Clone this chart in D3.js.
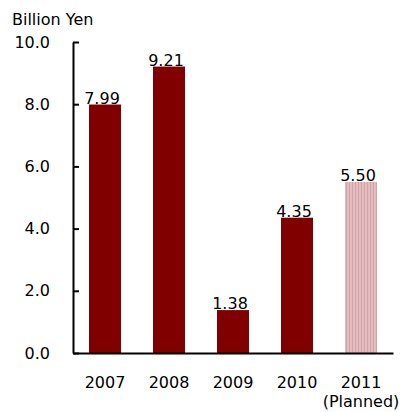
<!DOCTYPE html>
<html>
<head>
<meta charset="utf-8">
<script src="https://cdn.jsdelivr.net/npm/d3@7"></script>
<style>
  body { margin: 0; background: #fff; }
  text { font-family: "DejaVu Sans", Verdana, sans-serif; fill: #000; }
</style>
</head>
<body>
<script>
// Data
var years = ["2007", "2008", "2009", "2010", "2011"];
var values = [7.99, 9.21, 1.38, 4.35, 5.50];
var planned = [false, false, false, false, true];
var yTicks = [0, 2, 4, 6, 8, 10];

var margin = { top: 42, right: 16, bottom: 59, left: 73 },
  width = 409 - margin.left - margin.right,
  height = 412 - margin.top - margin.bottom;

var svg = d3.select("body").append("svg")
  .attr("width", 409)
  .attr("height", 412);

// hatched fill for the planned bar
var defs = svg.append("defs");
var pat = defs.append("pattern")
  .attr("id", "hatch")
  .attr("patternUnits", "userSpaceOnUse")
  .attr("width", 3)
  .attr("height", 3);
pat.append("rect").attr("width", 3).attr("height", 3).attr("fill", "#e3bcc0");
pat.append("rect").attr("width", 1).attr("height", 3).attr("fill", "#d3a4aa");

var g = svg.append("g")
  .attr("transform", "translate(" + margin.left + "," + margin.top + ")");

var x = d3.scaleBand().domain(years).range([0, width]).paddingInner(0.5).paddingOuter(0.25);
var y = d3.scaleLinear().domain([0, 10]).range([height, 0]);

// bars
g.selectAll(".bar")
  .data(values)
  .enter().append("rect")
  .attr("class", "bar")
  .attr("x", function (d, i) { return x(years[i]); })
  .attr("y", function (d) { return y(d); })
  .attr("width", x.bandwidth())
  .attr("height", function (d) { return height - y(d); })
  .attr("fill", function (d, i) { return planned[i] ? "url(#hatch)" : "#800000"; });

// value labels
g.selectAll(".val")
  .data(values)
  .enter().append("text")
  .attr("class", "val")
  .attr("x", function (d, i) { return x(years[i]) + x.bandwidth() / 2 - 3; })
  .attr("y", function (d) { return y(d) - 1; })
  .attr("text-anchor", "middle")
  .style("font-size", "16px")
  .text(function (d) { return d.toFixed(2); });

// y axis
var yAxis = d3.axisLeft(y).tickValues(yTicks).tickFormat(d3.format(".1f"))
  .tickSizeInner(-6).tickSizeOuter(0).tickPadding(23);
var ya = g.append("g").call(yAxis);
ya.select(".domain").attr("stroke", "#000").attr("stroke-width", 2);
ya.selectAll(".tick line").attr("stroke", "#000").attr("stroke-width", 2);
ya.selectAll(".tick text").style("font-size", "16px").style("font-family", "DejaVu Sans, Verdana, sans-serif");

// x axis
var xAxis = d3.axisBottom(x).tickSize(0).tickPadding(24);
var xa = g.append("g").attr("transform", "translate(0," + height + ")").call(xAxis);
xa.select(".domain").attr("stroke", "#000").attr("stroke-width", 2);
xa.selectAll(".tick text").style("font-size", "16px").style("font-family", "DejaVu Sans, Verdana, sans-serif");
xa.selectAll(".tick").filter(function (d, i) { return planned[i]; })
  .append("text")
  .attr("y", 24 + 19)
  .attr("dy", "0.71em")
  .attr("text-anchor", "middle")
  .attr("fill", "#000")
  .style("font-size", "16px")
  .style("font-family", "DejaVu Sans, Verdana, sans-serif")
  .text("(Planned)");

// unit label
svg.append("text")
  .attr("x", 12)
  .attr("y", 25)
  .style("font-size", "16px")
  .text("Billion Yen");
</script>
</body>
</html>
